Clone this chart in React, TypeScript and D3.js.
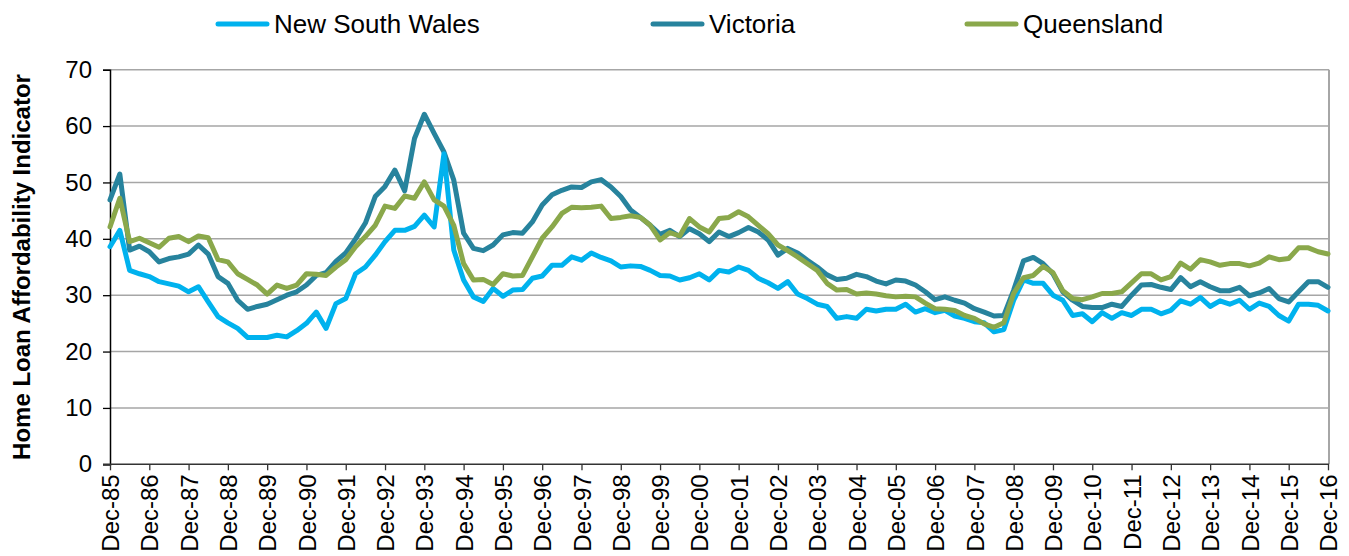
import * as d3 from "d3";
import { useEffect, useRef } from "react";

// quarterly values, Dec-85 .. Dec-16
const NSW = [
  38.6, 41.5, 34.4, 33.8, 33.3, 32.4, 32.0, 31.6, 30.6, 31.5,
  28.8, 26.2, 25.1, 24.1, 22.5, 22.5, 22.5, 22.9, 22.6, 23.7,
  25.0, 27.0, 24.1, 28.5, 29.4, 33.8, 35.0, 37.1, 39.5, 41.5,
  41.5, 42.2, 44.2, 42.1, 55.1, 38.0, 32.7, 29.7, 28.9, 31.2,
  29.8, 30.9, 31.0, 33.0, 33.4, 35.3, 35.3, 36.8, 36.2, 37.5,
  36.7, 36.1, 35.0, 35.2, 35.1, 34.4, 33.5, 33.4, 32.7, 33.1,
  33.8, 32.7, 34.4, 34.1, 35.0, 34.4, 33.0, 32.2, 31.2, 32.4,
  30.2, 29.4, 28.4, 28.0, 25.9, 26.2, 25.9, 27.5, 27.2, 27.5,
  27.5, 28.4, 27.0, 27.6, 26.9, 27.3, 26.3, 25.9, 25.3, 25.1,
  23.5, 23.9, 29.1, 32.7, 32.1, 32.1, 30.0, 29.1, 26.4, 26.7,
  25.3, 26.9, 25.9, 26.9, 26.4, 27.5, 27.5, 26.7, 27.3, 29.0,
  28.4, 29.6, 28.0, 29.0, 28.4, 29.1, 27.5, 28.6, 28.0, 26.4,
  25.4, 28.4, 28.4, 28.2, 27.2,
];

const VIC = [
  46.9, 51.5, 38.0, 38.7, 37.7, 35.9, 36.5, 36.8, 37.3, 38.9,
  37.3, 33.3, 32.1, 29.1, 27.5, 28.0, 28.4, 29.2, 30.0, 30.6,
  31.8, 33.5, 34.0, 36.0, 37.5, 40.0, 42.8, 47.5, 49.3, 52.2,
  48.5, 57.8, 62.1, 58.7, 55.4, 50.4, 41.0, 38.3, 37.9, 38.9,
  40.7, 41.1, 41.0, 43.0, 46.0, 47.8, 48.6, 49.2, 49.1, 50.1,
  50.5, 49.2, 47.5, 45.1, 43.8, 42.4, 40.8, 41.5, 40.4, 41.8,
  40.9, 39.5, 41.2, 40.4, 41.1, 42.0, 41.2, 39.8, 37.1, 38.3,
  37.5, 36.2, 35.0, 33.6, 32.8, 33.0, 33.7, 33.3, 32.5, 32.0,
  32.7, 32.5, 31.8, 30.6, 29.2, 29.7, 29.1, 28.6, 27.6, 27.0,
  26.3, 26.4, 30.9, 36.1, 36.7, 35.6, 33.8, 30.6, 29.1, 28.0,
  27.8, 27.8, 28.4, 28.0, 30.0, 31.8, 31.9, 31.4, 31.0, 33.1,
  31.5, 32.4, 31.5, 30.8, 30.8, 31.4, 29.9, 30.4, 31.2, 29.4,
  28.8, 30.6, 32.4, 32.4, 31.4,
];

const QLD = [
  42.1, 47.2, 39.5, 40.1, 39.3, 38.5, 40.1, 40.4, 39.5, 40.5,
  40.2, 36.3, 35.9, 33.8, 32.8, 31.8, 30.2, 31.8, 31.2, 31.8,
  33.8, 33.7, 33.5, 35.0, 36.3, 38.6, 40.4, 42.4, 45.8, 45.4,
  47.6, 47.2, 50.1, 46.9, 45.8, 42.4, 35.6, 32.7, 32.8, 31.9,
  33.8, 33.4, 33.5, 36.8, 40.1, 42.1, 44.5, 45.6, 45.5, 45.6,
  45.8, 43.6, 43.8, 44.1, 43.8, 42.4, 39.8, 41.1, 40.5, 43.6,
  42.1, 41.2, 43.6, 43.8, 44.8, 43.9, 42.4, 40.9, 38.9, 37.9,
  36.8, 35.6, 34.4, 32.1, 30.9, 31.0, 30.2, 30.4, 30.2, 29.9,
  29.7, 29.8, 29.7, 28.6, 27.6, 27.5, 27.3, 26.4, 25.9, 24.9,
  24.3, 25.1, 30.3, 33.1, 33.5, 35.1, 34.0, 30.8, 29.4, 29.2,
  29.7, 30.3, 30.3, 30.6, 32.2, 33.8, 33.8, 32.7, 33.3, 35.7,
  34.6, 36.3, 35.9, 35.3, 35.6, 35.6, 35.2, 35.7, 36.8, 36.3,
  36.5, 38.4, 38.4, 37.7, 37.3,
];

const YEAR_LABELS = [
  "Dec-85", "Dec-86", "Dec-87", "Dec-88", "Dec-89", "Dec-90", "Dec-91", "Dec-92",
  "Dec-93", "Dec-94", "Dec-95", "Dec-96", "Dec-97", "Dec-98", "Dec-99", "Dec-00",
  "Dec-01", "Dec-02", "Dec-03", "Dec-04", "Dec-05", "Dec-06", "Dec-07", "Dec-08",
  "Dec-09", "Dec-10", "Dec-11", "Dec-12", "Dec-13", "Dec-14", "Dec-15", "Dec-16",
];

const Y_TICKS = [0, 10, 20, 30, 40, 50, 60, 70];

const COLORS = {
  nsw: "#00B2EE",
  vic: "#27839D",
  qld: "#8AA84B",
  grid: "#A6A6A6",
  text: "#000000",
};

const SERIES = [
  { name: "New South Wales", values: NSW, color: COLORS.nsw, lx: 216 },
  { name: "Victoria", values: VIC, color: COLORS.vic, lx: 651 },
  { name: "Queensland", values: QLD, color: COLORS.qld, lx: 965 },
];

// drawing order (teal underneath)
const DRAW_ORDER = [1, 0, 2];

const FONT = "'Liberation Sans', Arial, sans-serif";

// quarter categories: Dec-85, Mar-86, ... Dec-16
const MONTHS = ["Mar", "Jun", "Sep", "Dec"];
const QUARTERS: string[] = [YEAR_LABELS[0]];
for (let yr = 86; yr <= 116; yr++) {
  MONTHS.forEach((m) => QUARTERS.push(`${m}-${String(yr % 100).padStart(2, "0")}`));
}

const WIDTH = 1349;
const HEIGHT = 556;
const margin = { top: 69.7, right: 21, bottom: 91.7, left: 110 };

export default function App() {
  const svgRef = useRef<SVGSVGElement | null>(null);

  useEffect(() => {
    if (!svgRef.current) return;
    const svg = d3.select(svgRef.current);
    svg.selectAll("*").remove();

    const innerRight = WIDTH - margin.right;
    const innerBottom = HEIGHT - margin.bottom;

    const x = d3.scalePoint<string>().domain(QUARTERS).range([margin.left, innerRight]);
    const y = d3.scaleLinear().domain([0, 70]).range([innerBottom, margin.top]);

    // gridlines
    svg
      .append("g")
      .selectAll("line")
      .data(Y_TICKS.filter((t) => t > 0))
      .join("line")
      .attr("x1", margin.left)
      .attr("x2", innerRight + 1)
      .attr("y1", (d) => y(d))
      .attr("y2", (d) => y(d))
      .attr("stroke", COLORS.grid)
      .attr("stroke-width", 1.4);

    // right border
    svg
      .append("line")
      .attr("x1", innerRight + 1)
      .attr("x2", innerRight + 1)
      .attr("y1", y(70))
      .attr("y2", y(0))
      .attr("stroke", COLORS.grid)
      .attr("stroke-width", 2);

    // y axis
    svg
      .append("g")
      .attr("transform", `translate(${margin.left},0)`)
      .call(d3.axisLeft(y).tickValues(Y_TICKS).tickSize(7).tickPadding(11))
      .call((g) => g.select(".domain").attr("stroke", "#000").attr("stroke-width", 1.5))
      .call((g) => g.selectAll(".tick line").attr("stroke", "#000").attr("stroke-width", 1.3))
      .call((g) =>
        g
          .selectAll(".tick text")
          .attr("fill", COLORS.text)
          .style("font-family", FONT)
          .style("font-size", "24px")
      );

    // x axis
    const yearTicks = QUARTERS.filter((q) => q.startsWith("Dec"));
    svg
      .append("g")
      .attr("transform", `translate(0,${innerBottom})`)
      .call(d3.axisBottom(x).tickValues(yearTicks).tickSize(6).tickSizeOuter(0))
      .call((g) =>
        g
          .select(".domain")
          .attr("stroke", "#333")
          .attr("stroke-width", 1.5)
          .attr("d", `M${margin.left - 7},0H${innerRight + 1}`)
      )
      .call((g) => g.selectAll(".tick line").attr("stroke", "#333").attr("stroke-width", 1.3))
      .call((g) =>
        g
          .selectAll(".tick text")
          .attr("fill", COLORS.text)
          .style("font-family", FONT)
          .style("font-size", "24px")
          .attr("transform", "rotate(-90)")
          .attr("text-anchor", "end")
          .attr("x", -10)
          .attr("y", 0)
          .attr("dy", "0.36em")
      );

    // y axis label
    svg
      .append("text")
      .attr("transform", `translate(30,${(margin.top + innerBottom) / 2}) rotate(-90)`)
      .attr("text-anchor", "middle")
      .attr("fill", COLORS.text)
      .style("font-family", FONT)
      .style("font-size", "24px")
      .style("font-weight", "bold")
      .text("Home Loan Affordability Indicator");

    // lines
    const line = d3
      .line<number>()
      .x((_, i) => x(QUARTERS[i]) as number)
      .y((d) => y(d));

    DRAW_ORDER.forEach((k) => {
      const s = SERIES[k];
      svg
        .append("path")
        .datum(s.values)
        .attr("d", line)
        .attr("fill", "none")
        .attr("stroke", s.color)
        .attr("stroke-width", 5)
        .attr("stroke-linejoin", "round")
        .attr("stroke-linecap", "round");
    });

    // legend
    const legend = svg.append("g").attr("class", "legend");
    const items = legend
      .selectAll("g")
      .data(SERIES)
      .join("g")
      .attr("transform", (d) => `translate(${d.lx},24)`);

    items
      .append("line")
      .attr("x1", 2)
      .attr("x2", 51)
      .attr("stroke", (d) => d.color)
      .attr("stroke-width", 5)
      .attr("stroke-linecap", "round");

    items
      .append("text")
      .attr("x", 58)
      .attr("dy", "0.36em")
      .attr("fill", COLORS.text)
      .style("font-family", FONT)
      .style("font-size", "26px")
      .text((d) => d.name);
  }, []);

  return (
    <svg
      ref={svgRef}
      width={WIDTH}
      height={HEIGHT}
      style={{ position: "absolute", left: 0, top: 0, background: "#fff" }}
    />
  );
}
